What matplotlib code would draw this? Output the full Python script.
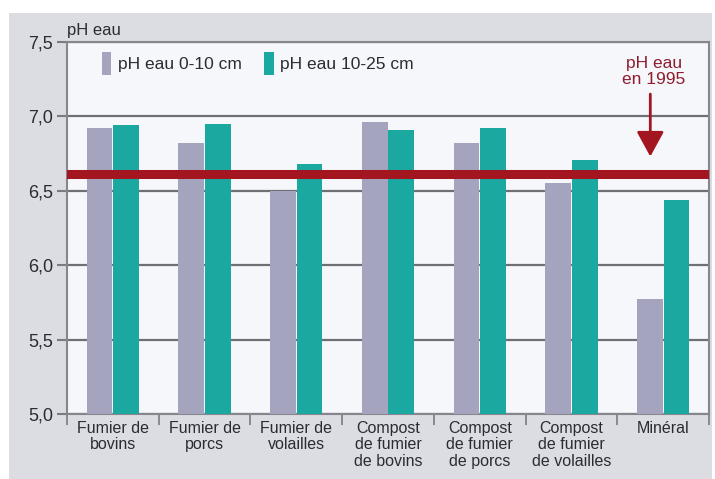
import numpy as np
import matplotlib
matplotlib.use('Agg')
import matplotlib.pyplot as plt
from matplotlib.patches import Rectangle

plt.rcParams['font.family'] = ['Liberation Sans Narrow', 'Liberation Sans', 'DejaVu Sans']

# donnees
categories = ['Fumier de\nbovins', 'Fumier de\nporcs', 'Fumier de\nvolailles',
              'Compost\nde fumier\nde bovins', 'Compost\nde fumier\nde porcs',
              'Compost\nde fumier\nde volailles', 'Minéral']
ph_0_10 = [6.92, 6.82, 6.50, 6.96, 6.82, 6.55, 5.77]
ph_10_25 = [6.94, 6.95, 6.68, 6.91, 6.92, 6.71, 6.44]
ph_1995 = 6.61
yticks = [5.0, 5.5, 6.0, 6.5, 7.0, 7.5]
ytick_labels = ['5,0', '5,5', '6,0', '6,5', '7,0', '7,5']

c_gris = '#a4a4bf'
c_vert = '#1aa8a1'
c_rouge = '#a3161f'
c_texte = '#2b2b33'

fig = plt.figure(figsize = (7.15, 4.79), dpi = 100)
fig.patch.set_facecolor('white')
fig.patches.append(Rectangle((9/715, 0), 703/715, 466/479, transform = fig.transFigure,
                             facecolor = '#dcdde3', edgecolor = 'none', zorder = -10))

ax = fig.add_axes([67/715, 65/479, 642/715, 372/479])
ax.set_facecolor('#f5f7fb')

x = np.arange(len(categories))
w = 0.28
ax.bar(x - 0.145, ph_0_10, w, bottom = 0, color = c_gris, label = 'pH eau 0-10 cm', zorder = 3)
ax.bar(x + 0.145, ph_10_25, w, bottom = 0, color = c_vert, label = 'pH eau 10-25 cm', zorder = 3)

ax.axhline(ph_1995, color = c_rouge, lw = 6.5, zorder = 4)

ax.set_xlim(-0.5, len(categories) - 0.5)
ax.set_ylim(5.0, 7.5)
ax.set_yticks(yticks)
ax.set_yticklabels(ytick_labels, fontsize = 13, color = c_texte)
ax.set_xticks(x)
ax.set_xticklabels(categories, fontsize = 11.5, color = c_texte, linespacing = 1.12)
ax.set_xticks(np.arange(-0.5, len(categories)), minor = True)
ax.tick_params(axis = 'x', which = 'major', length = 0, pad = 5)
ax.tick_params(axis = 'x', which = 'minor', length = 8, width = 1.2, color = '#7a7a80', direction = 'out')
ax.tick_params(axis = 'y', length = 7, width = 1.5, color = '#7a7a80', pad = 3)

ax.grid(axis = 'y', color = '#6f6f76', lw = 1.6, zorder = 1)
for s in ax.spines.values():
    s.set_color('#86868c')
    s.set_linewidth(1.5)

ax.text(0.0, 1.012, 'pH eau', transform = ax.transAxes, ha = 'left', va = 'bottom',
        fontsize = 12, color = c_texte)

ax.legend(loc = 'upper left', bbox_to_anchor = (0.03, 1.015), ncol = 2, frameon = False,
          fontsize = 12.5, handlelength = 0.55, handleheight = 1.7, handletextpad = 0.35,
          columnspacing = 1.3, labelcolor = c_texte)

ax.text(5.9, 7.3, 'pH eau\nen 1995', ha = 'center', va = 'center', fontsize = 12.5,
        color = '#8e1d2e', linespacing = 1.05)
ax.annotate('', xy = (5.86, 6.73), xytext = (5.86, 7.15),
            arrowprops = dict(arrowstyle = '-|>,head_width=0.3,head_length=0.55', color = c_rouge,
                              lw = 2, mutation_scale = 28, shrinkA = 0, shrinkB = 0), zorder = 5)

plt.savefig('out.png', dpi = 100)
